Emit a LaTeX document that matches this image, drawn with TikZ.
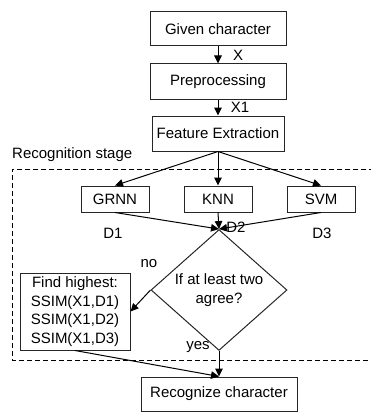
\documentclass[tikz,border=0pt]{standalone}
\usepackage{fontspec}
\setmainfont{Liberation Sans}
\usetikzlibrary{arrows.meta,shapes.geometric}
\begin{document}
\begin{tikzpicture}[x=1pt,y=-1pt,
  every node/.style={font=\fontsize{15}{18.5}\selectfont},
  proc/.style={draw=black!85,line width=1pt,inner sep=0pt,align=center},
  lbl/.style={inner sep=0pt},
  arr/.style={draw=black,line width=1pt,-{Triangle[length=8pt,width=7.5pt]}},
  stageline/.style={draw=black,line width=1pt,dash pattern=on 5pt off 3pt}]
\useasboundingbox (0,0) rectangle (370,412);
% main column
\node[proc,minimum width=136pt,minimum height=34pt] (given) at (218,29) {Given character};
\node[proc,minimum width=136pt,minimum height=35pt] (pre) at (218,81.5) {Preprocessing};
\node[proc,minimum width=132pt,minimum height=35pt] (feat) at (218,133.5) {Feature Extraction};
% classifiers
\node[proc,minimum width=68pt,minimum height=26pt] (grnn) at (115,199) {GRNN};
\node[proc,minimum width=68pt,minimum height=26pt] (knn) at (218,199) {KNN};
\node[proc,minimum width=68pt,minimum height=26pt] (svm) at (321,199) {SVM};
% decision
\node[proc,shape=diamond,minimum width=136pt,minimum height=104pt] (dia) at (219,290) {If at least two\\agree?};
\node[proc,minimum width=110pt,minimum height=77pt] (find) at (75,311.5) {Find highest:\\SSIM(X1,D1)\\SSIM(X1,D2)\\SSIM(X1,D3)};
\node[proc,minimum width=156pt,minimum height=34pt] (recog) at (219,394) {Recognize character};
% labels
\node[lbl] (lx) at (238,55) {X};
\node[lbl] (lx1) at (240,107) {X1};
\node[lbl] (ld1) at (113,233) {D1};
\node[lbl] (ld2) at (236,227) {D2};
\node[lbl] (ld3) at (322,233) {D3};
\node[lbl] (lno) at (149,264) {no};
\node[lbl] (lyes) at (198,347) {yes};
\node[lbl,anchor=west] (lstage) at (12,155) {Recognition stage};
% dashed stage frame (right side beyond the picture)
\coordinate (fr1) at (374,169);
\coordinate (fr2) at (12,169);
\coordinate (fr3) at (12,360);
\coordinate (fr4) at (374,360);
\draw[stageline] (fr1) -- (fr2) -- (fr3) -- (fr4);
% connectors
\draw[arr] (given) -- (pre);
\draw[arr] (pre) -- (feat);
\draw[arr] (feat.south) -- (grnn.north);
\draw[arr] (feat.south) -- (knn.north);
\draw[arr] (feat.south) -- (svm.north);
\draw[arr] (grnn.south) -- (dia.north);
\draw[arr] (knn.south) -- (dia.north);
\draw[arr] (svm.south) -- (dia.north);
\draw[arr] (dia.west) -- (find.east);
\draw[arr] (dia.south) -- (recog.north);
\draw[arr] (find.south) -- (recog.north);
\end{tikzpicture}
\end{document}
